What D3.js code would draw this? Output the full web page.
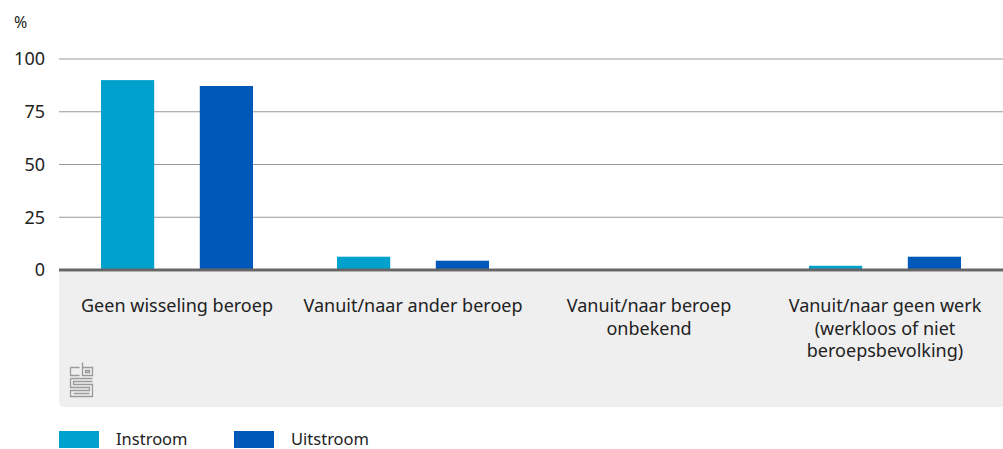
<!DOCTYPE html>
<html>
<head>
<meta charset="utf-8">
<script src="https://cdn.jsdelivr.net/npm/d3@7"></script>
<style>
  body { margin: 0; background: #fff; }
  text { font-family: "Noto Sans", "DejaVu Sans", sans-serif; fill: #222; }
</style>
</head>
<body>
<div id="chart"></div>
<script>
var categories = [
    ["Geen wisseling beroep"],
    ["Vanuit/naar ander beroep"],
    ["Vanuit/naar beroep", "onbekend"],
    ["Vanuit/naar geen werk", "(werkloos of niet", "beroepsbevolking)"]
];
var seriesNames = ["Instroom", "Uitstroom"];
var instroom = [90, 6.3, 0, 2];
var uitstroom = [87.2, 4.4, 0, 6.3];
var yTicks = [0, 25, 50, 75, 100];

var colors = ["#00a1cd", "#0058b8"];
var width = 1003, height = 449;
var margin = { top: 59, right: 0, bottom: 179, left: 59 };
var innerW = width - margin.left - margin.right;
var innerH = height - margin.top - margin.bottom;

var svg = d3.select("#chart").append("svg").attr("width", width).attr("height", height);
var g = svg.append("g").attr("transform", "translate(" + margin.left + "," + margin.top + ")");

var x0 = d3.scaleBand().domain(d3.range(categories.length)).range([0, innerW]);
var x1 = d3.scaleBand().domain(seriesNames).range([x0.bandwidth() / 2 - 76, x0.bandwidth() / 2 + 76]).paddingInner(48 / 104).paddingOuter(0);
var y = d3.scaleLinear().domain([0, 100]).range([innerH, 0]);

// grey label panel
var panelH = 137;
g.append("path")
    .attr("d", "M0," + (innerH + 2) + "H" + innerW + "V" + (innerH + panelH) + "H6Q0," + (innerH + panelH) + " 0," + (innerH + panelH - 6) + "Z")
    .attr("fill", "#efefef");

// gridlines
g.append("g")
    .selectAll("line")
    .data(yTicks.filter(function (d) { return d > 0; }))
    .enter().append("line")
    .attr("x1", 0).attr("x2", innerW)
    .attr("y1", function (d) { return y(d); })
    .attr("y2", function (d) { return y(d); })
    .attr("stroke", "#999").attr("stroke-width", 1);

// y axis labels
var yAxis = d3.axisLeft(y).tickValues(yTicks).tickSize(0).tickPadding(14);
var ya = g.append("g").call(yAxis);
ya.select(".domain").remove();
ya.selectAll("text").style("font-size", "18px").attr("fill", "#222").attr("dy", "0.32em");

svg.append("text").attr("x", 14).attr("y", 28).style("font-size", "16px").text("%");

// bars
var data = categories.map(function (c, i) { return [instroom[i], uitstroom[i]]; });
var groups = g.selectAll(".grp").data(data).enter().append("g")
    .attr("transform", function (d, i) { return "translate(" + x0(i) + ",0)"; });
groups.selectAll("rect")
    .data(function (d) { return d.map(function (v, j) { return { name: seriesNames[j], v: v, j: j }; }); })
    .enter().append("rect")
    .filter(function (d) { return d.v > 0; })
    .attr("x", function (d) { return x1(d.name); })
    .attr("width", x1.bandwidth())
    .attr("y", function (d) { return y(d.v); })
    .attr("height", function (d) { return y(0) - y(d.v); })
    .attr("fill", function (d) { return colors[d.j]; });

// baseline
g.append("line").attr("x1", 0).attr("x2", innerW).attr("y1", y(0)).attr("y2", y(0))
    .attr("stroke", "#666").attr("stroke-width", 3);

// category labels
var lbl = g.selectAll(".cat").data(categories).enter().append("text")
    .attr("text-anchor", "middle")
    .attr("transform", function (d, i) { return "translate(" + (x0(i) + x0.bandwidth() / 2) + "," + (innerH + 42) + ")"; })
    .style("font-size", "18px");
lbl.selectAll("tspan").data(function (d) { return d; }).enter().append("tspan")
    .attr("x", 0).attr("dy", function (d, i) { return i === 0 ? 0 : 22.5; })
    .text(function (d) { return d; });

// cbs logo
var logo = svg.append("g").attr("transform", "translate(70,362)")
    .attr("fill", "none").attr("stroke", "#9a9a9a").attr("stroke-width", 1.3);
logo.append("path").attr("d", "M0.5,5.5H9.5M0.5,5.5V13.5H9.5");
logo.append("path").attr("d", "M12.5,0.5V13.5H22.5V5.5H12.5M15.5,8.5H19.5V10.5H15.5Z");
logo.append("path").attr("d", "M0.5,16.5H22.5M0.5,16.5V25.5H19.5V28.5H0.5V34.5H22.5V22.5H3.5V19.5H22.5M3.5,31.5H19.5");

// legend
var leg = svg.append("g").attr("transform", "translate(59,431)");
var li = leg.selectAll("g").data(seriesNames).enter().append("g")
    .attr("transform", function (d, i) { return "translate(" + (i * 175) + ",0)"; });
li.append("rect").attr("width", 40).attr("height", 17).attr("fill", function (d, i) { return colors[i]; });
li.append("text").attr("x", 57).attr("y", 14).style("font-size", "16.5px").text(function (d) { return d; });
</script>
</body>
</html>
